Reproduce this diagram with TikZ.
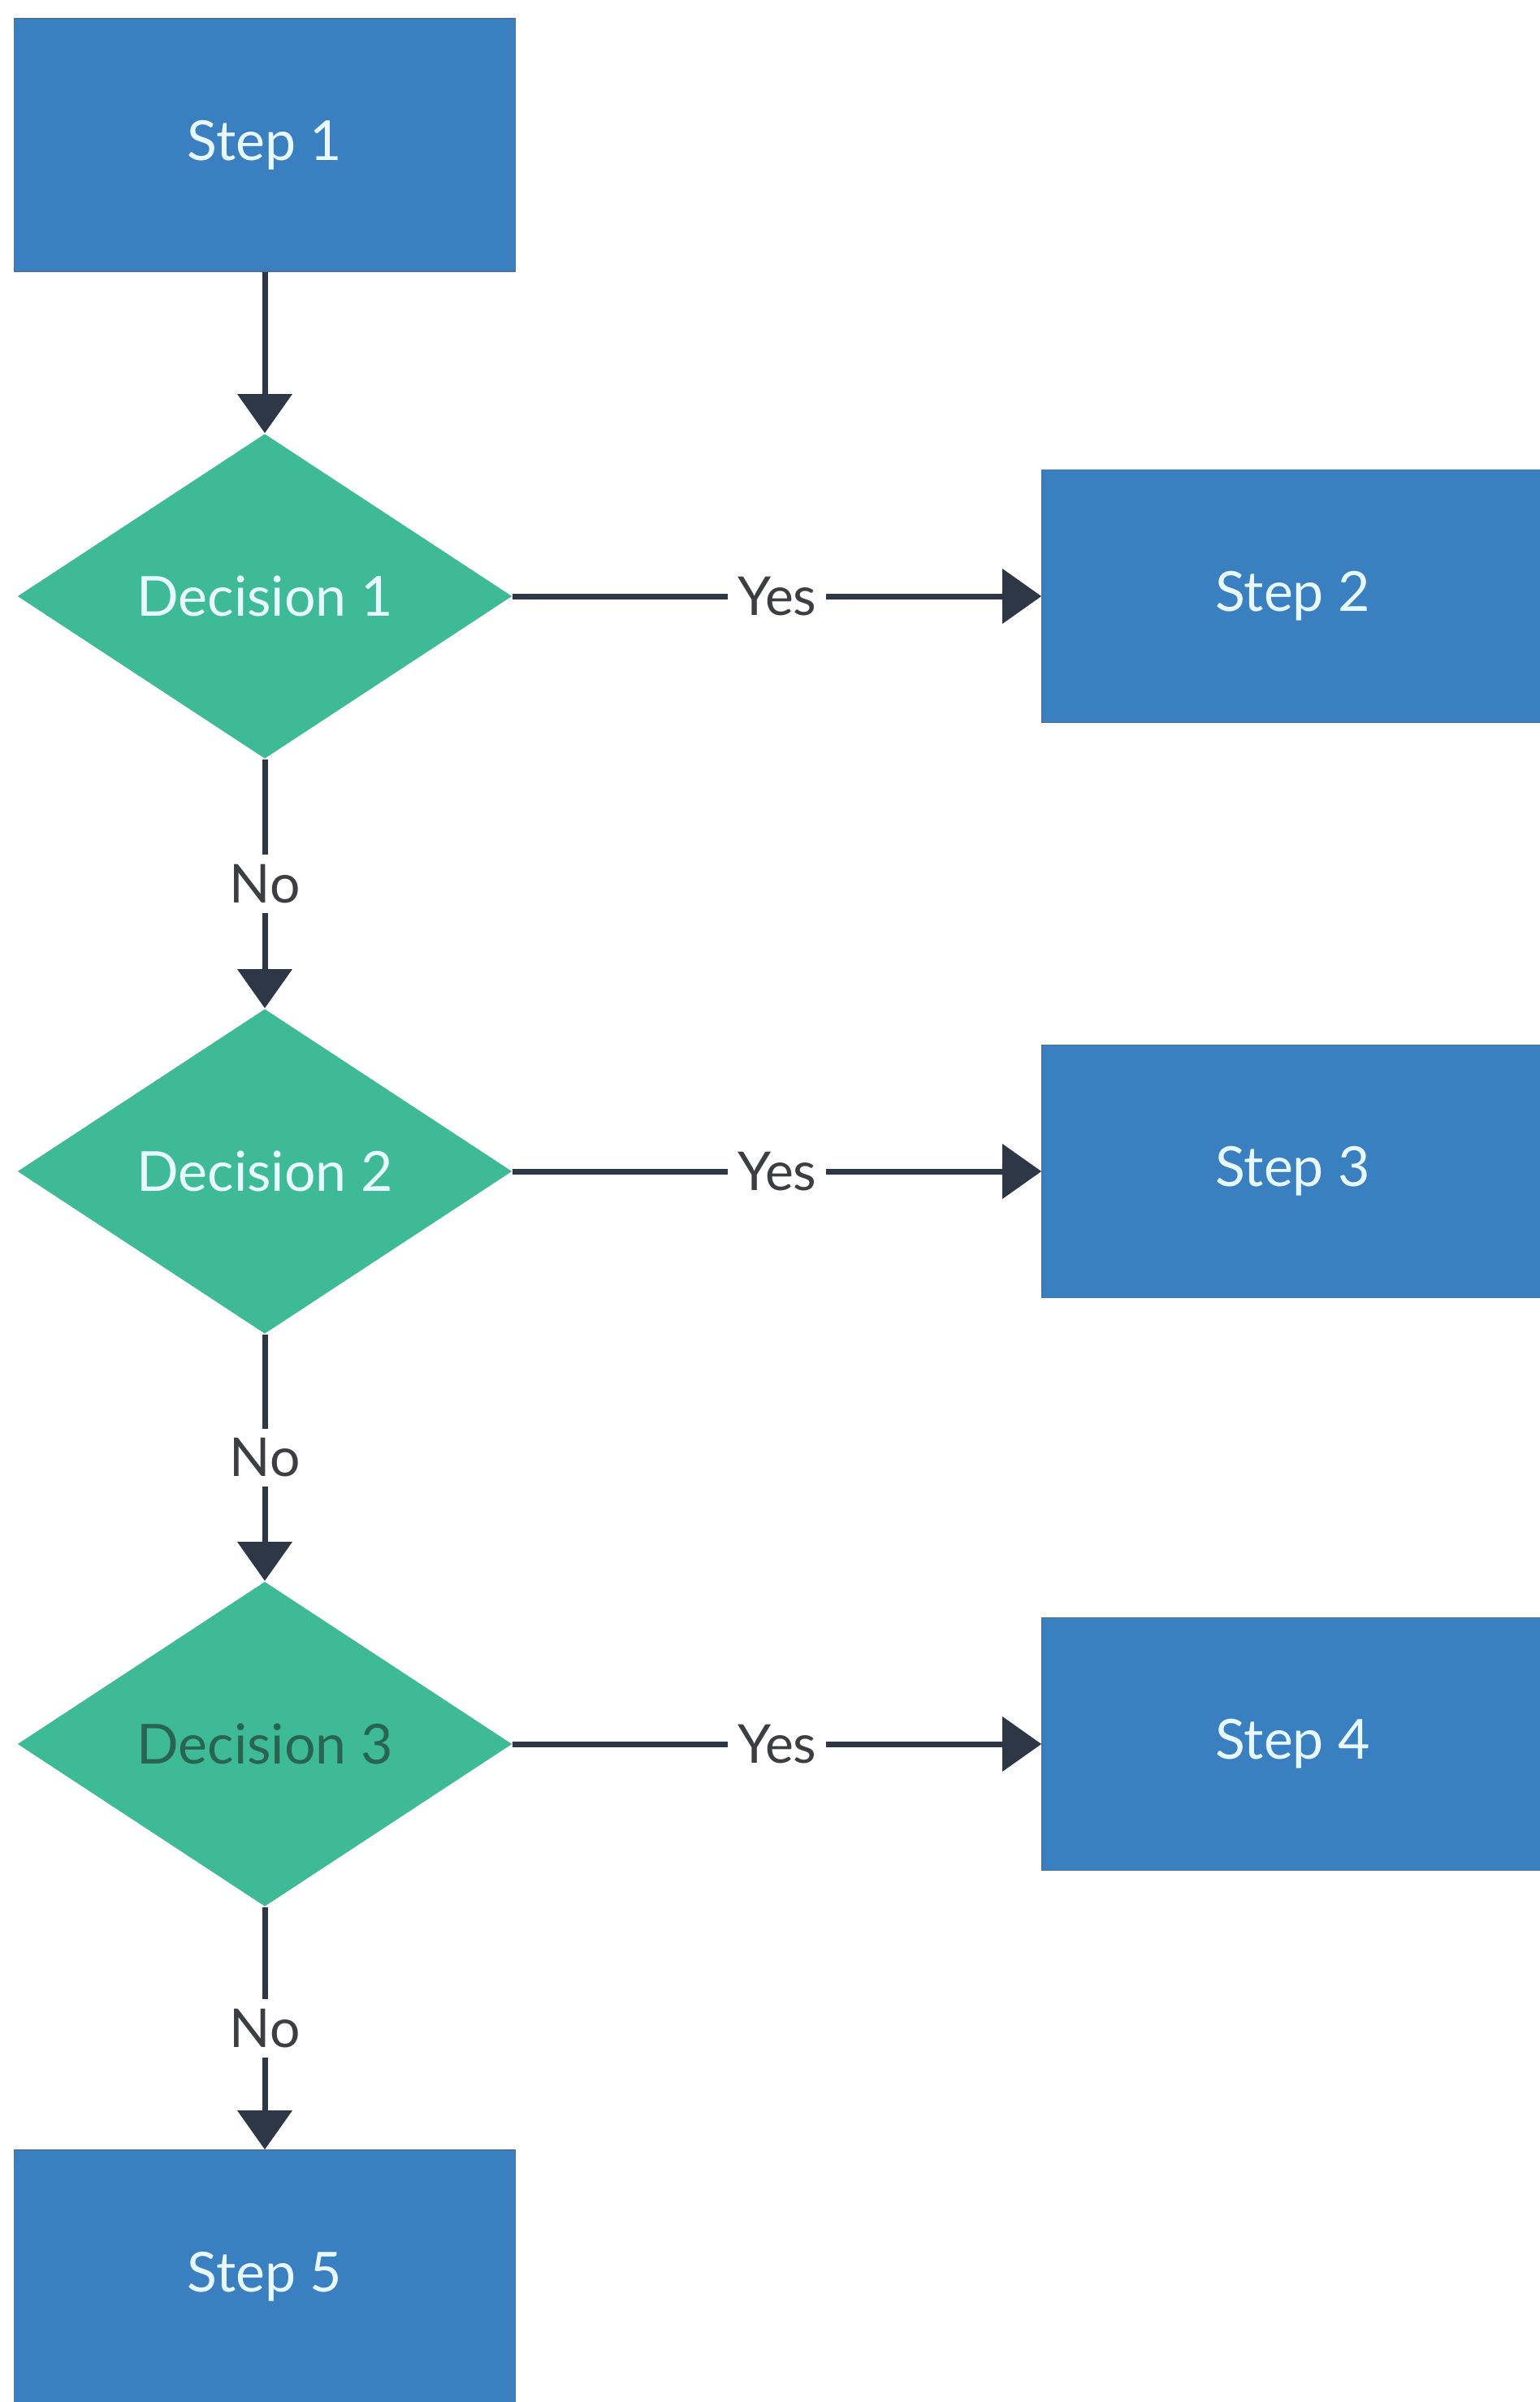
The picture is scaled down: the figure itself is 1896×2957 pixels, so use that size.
\documentclass[tikz,border=0pt]{standalone}
\usepackage{fontspec}
\setmainfont{Lato}
\usetikzlibrary{shapes.geometric,arrows.meta}
\definecolor{boxblue}{RGB}{58,127,192}
\definecolor{boxedge}{RGB}{70,115,160}
\definecolor{decgreen}{RGB}{62,187,150}
\definecolor{linedark}{RGB}{45,55,70}
\definecolor{txtlight}{RGB}{232,248,255}
\definecolor{txtdark}{RGB}{40,100,80}
\definecolor{lbl}{RGB}{60,62,66}
\tikzset{
  stepbox/.style={rectangle, fill=boxblue, draw=boxedge, line width=0.4pt,
    minimum width=154.25pt, minimum height=77.75pt, inner sep=0pt,
    text=txtlight, font=\fontsize{17}{20}\selectfont},
  decbox/.style={diamond, fill=decgreen, draw=none, aspect=1.52,
    minimum width=152.25pt, minimum height=100pt, inner sep=0pt,
    text=txtlight, font=\fontsize{17}{20}\selectfont},
  flow/.style={draw=linedark, line width=1.75pt,
    -{Triangle[width=16.5pt,length=12pt]}},
  lab/.style={fill=white, text=lbl, inner sep=3pt, font=\fontsize{16.5}{20}\selectfont}
}
\newcommand{\dn}[1]{\raisebox{-2pt}{#1}}
\begin{document}
\begin{tikzpicture}[x=0.25pt,y=-0.25pt]
\clip (0,0) rectangle (1896,2957);
\fill[white] (0,0) rectangle (1896,2957);
\node[stepbox] (s1) at (326,178.5) {\dn{Step 1}};
\node[decbox] (d1) at (326,734) {\dn{Decision 1}};
\node[decbox] (d2) at (326,1442) {\dn{Decision 2}};
\node[decbox, text=txtdark] (d3) at (326,2147) {\dn{Decision 3}};
\node[stepbox] (s2) at (1591.5,734) {\dn{Step 2}};
\node[stepbox] (s3) at (1591.5,1442) {\dn{Step 3}};
\node[stepbox] (s4) at (1591.5,2147) {\dn{Step 4}};
\node[stepbox] (s5) at (326,2802.5) {\dn{Step 5}};
\draw[flow] (s1) -- (d1);
\draw[flow] (d1) -- node[lab] {Yes} (s2);
\draw[flow] (d2) -- node[lab] {Yes} (s3);
\draw[flow] (d3) -- node[lab] {Yes} (s4);
\draw[flow] (d1) -- node[lab] {No} (d2);
\draw[flow] (d2) -- node[lab] {No} (d3);
\draw[flow] (d3) -- node[lab] {No} (s5);
\end{tikzpicture}
\end{document}
